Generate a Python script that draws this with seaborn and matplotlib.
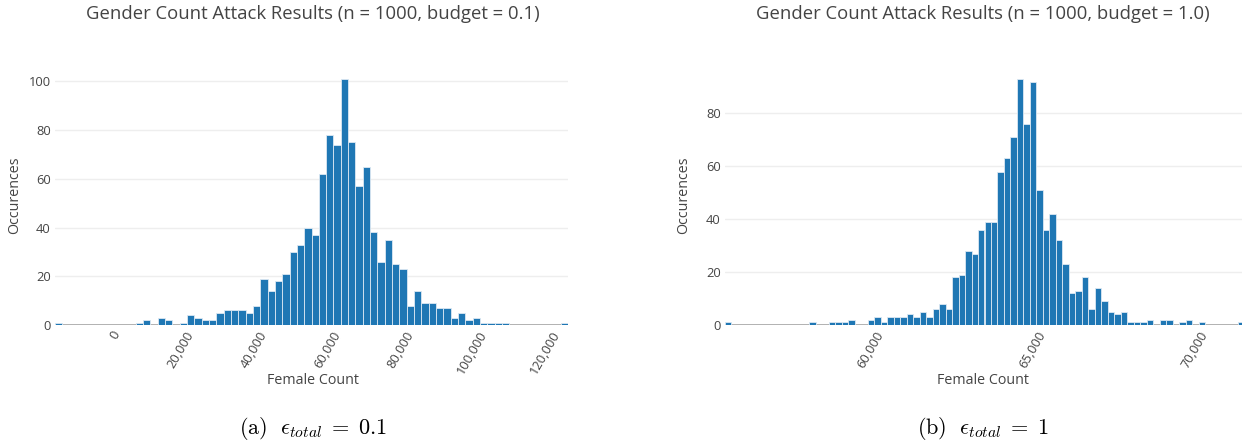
import numpy as np
import pandas as pd
import matplotlib
matplotlib.use("Agg")
import matplotlib.pyplot as plt
import seaborn as sns

# Histogram counts (1000 attack runs per budget)
left_start = -17000
left_bin = 2000
left_counts = [1, 0, 0, 0, 0, 0, 0, 0, 0, 0,
               0, 1, 2, 0, 3, 2, 0, 1, 4, 3,
               2, 2, 5, 6, 6, 6, 5, 8, 19, 14,
               18, 21, 30, 33, 40, 37, 62, 78, 74, 101,
               75, 57, 65, 38, 26, 35, 25, 23, 8, 14,
               9, 9, 7, 7, 3, 5, 2, 3, 1, 1,
               1, 1, 0, 0, 0, 0, 0, 0, 0, 1]

right_start = 55200
right_bin = 200
right_counts = [1, 0, 0, 0, 0, 0, 0, 0, 0, 0,
                0, 0, 0, 1, 0, 0, 1, 1, 1, 2,
                0, 0, 2, 3, 1, 3, 3, 3, 4, 3,
                5, 3, 6, 8, 6, 18, 19, 28, 27, 36,
                39, 39, 58, 63, 71, 93, 76, 92, 51, 36,
                42, 32, 23, 12, 13, 18, 6, 14, 9, 5,
                4, 5, 1, 1, 1, 2, 0, 2, 2, 0,
                1, 2, 0, 1, 0, 0, 0, 0, 0, 1]

titles = ["Gender Count Attack Results (n = 1000, budget = 0.1)",
          "Gender Count Attack Results (n = 1000, budget = 1.0)"]
captions = [r"$\mathrm{(a)}\ \ \epsilon_{total}\;=\;0.1$",
            r"$\mathrm{(b)}\ \ \epsilon_{total}\;=\;1$"]
left_xticks = [0, 20000, 40000, 60000, 80000, 100000, 120000]
right_xticks = [60000, 65000, 70000]
left_yticks = [0, 20, 40, 60, 80, 100]
right_yticks = [0, 20, 40, 60, 80]

sns.set_style("white")
plt.rcParams["font.family"] = ["Open Sans", "DejaVu Sans"]
plt.rcParams["mathtext.fontset"] = "cm"

W, H = 1242, 443
fig = plt.figure(figsize=(W / 100, H / 100), dpi=100)

TXT = "#444444"
BAR = "#1f77b4"


def panel(rect, start, width, counts, xticks, yticks, ytop):
    ax = fig.add_axes(rect)
    counts = np.asarray(counts, dtype=float)
    n = len(counts)
    lo, hi = start, start + width * n
    centers = start + width * (np.arange(n) + 0.5)
    df = pd.DataFrame({"value": centers, "count": counts})
    for y in yticks[1:]:
        ax.axhline(y, color="#eeeeee", lw=1, zorder=0)
    ax.axhline(0, color="#9a9a9a", lw=1.8, zorder=1)
    sns.histplot(data=df, x="value", weights="count", binwidth=width,
                 binrange=(lo, hi), ax=ax, color=BAR, edgecolor="#dce8f3",
                 linewidth=0.6, alpha=1, zorder=2)
    ax.set_xlim(lo, hi)
    ax.set_ylim(0, ytop)
    ax.set_xticks(xticks)
    ax.set_xticklabels([f"{t:,}" for t in xticks], rotation=60,
                       ha="right", va="center", rotation_mode="anchor",
                       color=TXT, fontsize=9.3)
    ax.set_yticks(yticks)
    ax.set_yticklabels([str(t) for t in yticks], color=TXT, fontsize=9.3)
    ax.tick_params(axis="both", length=0, pad=3)
    ax.tick_params(axis="x", pad=5)
    ax.set_xlabel("")
    ax.set_ylabel("")
    for s in ax.spines.values():
        s.set_visible(False)
    return ax


ax_l = panel([55 / W, 1 - 325 / H, 513 / W, 259 / H],
             left_start, left_bin, left_counts, left_xticks, left_yticks, 106.3)
ax_r = panel([725 / W, 1 - 325 / H, 519 / W, 259 / H],
             right_start, right_bin, right_counts, right_xticks, right_yticks, 97.9)

for cx, ylab_x, title, cap in [(313, 15, titles[0], captions[0]),
                               (983, 684, titles[1], captions[1])]:
    fig.text(cx / W, 1 - 14 / H, title, ha="center", va="center",
             fontsize=13.3, color=TXT)
    fig.text(cx / W, 1 - 381 / H, "Female Count", ha="center", va="center",
             fontsize=10.3, color=TXT)
    fig.text(ylab_x / W, 1 - 195 / H, "Occurences", ha="center", va="center",
             rotation=90, fontsize=10.3, color=TXT)
    fig.text(cx / W, 1 - 428 / H, cap, ha="center", va="center",
             fontsize=16, color="black")

fig.savefig("out.png", dpi=100)
